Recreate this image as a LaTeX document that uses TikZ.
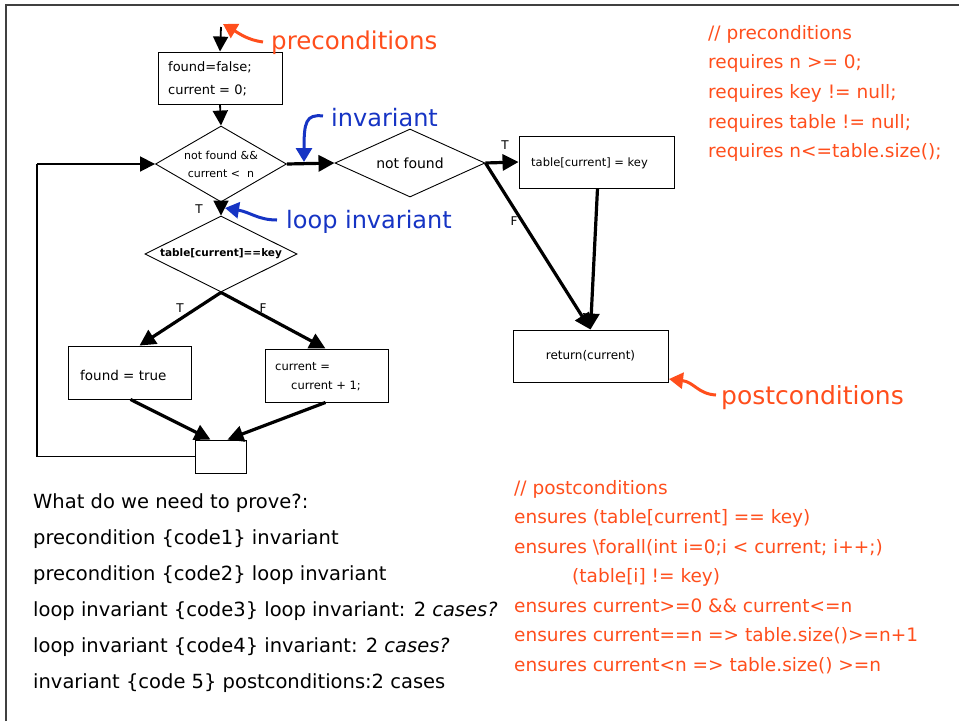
\documentclass[tikz,border=0pt]{standalone}
\usepackage{fontspec}
\setmainfont{DejaVu Sans}
\usetikzlibrary{shapes.geometric,arrows.meta,calc}
\definecolor{annred}{RGB}{255,78,28}
\definecolor{annblue}{RGB}{22,52,196}
\newcommand{\fsz}[2]{\fontsize{#1}{#2}\selectfont}
\tikzset{
  box/.style={draw,line width=0.9pt,inner sep=0pt},
  dia/.style={draw,diamond,line width=0.9pt,inner sep=0pt},
  flow/.style={line width=3.2pt,-{Triangle[length=16pt,width=16pt]}},
  thinflow/.style={line width=1.8pt,-{Triangle[length=15pt,width=15pt]}},
  annot/.style={line width=3pt,-{Triangle[length=14pt,width=16pt]}},
  lbl/.style={font=\fsz{12}{14},inner sep=0pt},
}
\begin{document}
\begin{tikzpicture}[x=1pt,y=-1pt]
\useasboundingbox (0,0) rectangle (959,721);
% frame
\draw[line width=1.2pt,black!75] (6,721) -- (6,5) -- (959,5);

% nodes
\node[box,minimum width=124pt,minimum height=52pt] (init) at (220,78) {};
\node[anchor=west,font=\fsz{13}{23.5},align=left,inner sep=0pt] (inittxt) at (168,79) {found=false;\\current = 0;};
\coordinate (start) at (221,27);

\node[dia,aspect=1.7,minimum width=131pt,minimum height=76pt,font=\fsz{11}{18},align=center] (cond) at (221,164) {not found \&\&\\current <\ \ n};
\node[dia,aspect=2.2,minimum width=150pt,minimum height=68pt,font=\fsz{14}{16}] (nf) at (410,163) {not found};
\node[box,minimum width=155pt,minimum height=52pt] (tbl) at (596.5,162) {};
\node[anchor=west,font=\fsz{11.5}{13},inner sep=0pt] (tbltxt) at (531,163) {table[current] = key};
\node[box,minimum width=155pt,minimum height=52pt,font=\fsz{12}{14}] (ret) at (590.5,356) {return(current)};

\node[dia,aspect=2,minimum width=152pt,minimum height=76pt,font=\bfseries\fsz{10.5}{12}] (test) at (221,254) {table[current]==key};
\node[box,minimum width=123pt,minimum height=53pt] (found) at (129.5,372.5) {};
\node[anchor=west,font=\fsz{13.5}{15},inner sep=0pt] (foundtxt) at (80,375) {found = true};
\node[box,minimum width=123pt,minimum height=53pt] (inc) at (326.5,375.5) {};
\node[anchor=north west,font=\fsz{11.5}{19.5},align=left,inner sep=0pt] (inctxt) at (275,362) {current =\\\hspace*{16pt}current + 1;};
\node[box,minimum width=51pt,minimum height=33pt] (merge) at (220.5,456.5) {};
\coordinate (loopA) at (37,456.5);
\coordinate (loopB) at (37,164);

% connectors
\draw[thinflow] (start) -- (init.north);
\draw[thinflow] (init.south) -- (cond.north);
\draw[flow] (cond.east) -- (nf.west);
\draw[flow] (nf.east) -- (tbl.west);
\draw[flow] (nf.east) -- (ret.north);
\draw[flow] ($(tbl.south)+(1,0)$) -- (ret.north);
\draw[thinflow] (cond.south) -- (test.north);
\draw[flow] (test.south) -- ($(found.north)+(10,0)$);
\draw[flow] (test.south) -- ($(inc.north)+(-1,0)$);
\draw[flow] ($(found.south)+(1,0)$) -- ($(merge.north)+(-10,0)$);
\draw[flow] ($(inc.south)+(-1,0)$) -- ($(merge.north)+(7,0)$);
\draw[line width=1.8pt] (merge.west) -- (loopA) -- (loopB);
\draw[thinflow] (loopB) -- (cond.west);

% T/F labels
\node[lbl] (t1) at (505,145) {T};
\node[lbl] (f1) at (514,221) {F};
\node[lbl] (t2) at (199,209) {T};
\node[lbl] (t3) at (180,308) {T};
\node[lbl] (f3) at (263,308) {F};

% annotations
\node[anchor=west,text=annred,font=\fsz{24.5}{28},inner sep=0pt] (pre) at (271,43) {preconditions};
\coordinate (preS) at (263,42);
\coordinate (preT) at (223,24);
\draw[annot,annred] (preS) .. controls (248,40) and (240,34) .. (preT);

\node[anchor=west,text=annblue,font=\fsz{24}{28},inner sep=0pt] (inv) at (331,118) {invariant};
\coordinate (invS) at (323,116);
\coordinate (invT) at (304,162);
\draw[annot,annblue] (invS) .. controls (306,114) and (304,122) .. (invT);

\node[anchor=west,text=annblue,font=\fsz{24}{28},inner sep=0pt] (linv) at (286,222) {loop invariant};
\coordinate (linvS) at (277,220);
\coordinate (linvT) at (225,208);
\draw[annot,annblue] (linvS) .. controls (258,220) and (250,212) .. (linvT);

\node[anchor=west,text=annred,font=\fsz{25}{28},inner sep=0pt] (post) at (721,398) {postconditions};
\coordinate (postS) at (716,395);
\coordinate (postT) at (669,379);
\draw[annot,annred] (postS) .. controls (698,394) and (694,382) .. (postT);

% text blocks
\node[anchor=north west,align=left,font=\fsz{19.5}{36},inner sep=0pt] (prove) at (33,493)
{What do we need to prove?:\\
precondition \{code1\} invariant\\
precondition \{code2\} loop invariant\\
loop invariant \{code3\} loop invariant: 2 \textit{cases?}\\
loop invariant \{code4\} invariant: 2 \textit{cases?}\\
invariant \{code 5\} postconditions:2 cases};

\node[anchor=north west,align=left,text=annred,font=\fsz{18.5}{29.6},inner sep=0pt] (preblk) at (708,25)
{// preconditions\\
requires n >= 0;\\
requires key != null;\\
requires table != null;\\
requires n<=table.size();};

\node[anchor=north west,align=left,text=annred,font=\fsz{18.5}{29.5},inner sep=0pt] (postblk) at (514,480)
{// postconditions\\
ensures (table[current] == key)\\
ensures \textbackslash forall(int i=0;i < current; i++;)\\
\hspace*{58pt}(table[i] != key)\\
ensures current>=0 \&\& current<=n\\
ensures current==n => table.size()>=n+1\\
ensures current<n => table.size() >=n};
\end{tikzpicture}
\end{document}
